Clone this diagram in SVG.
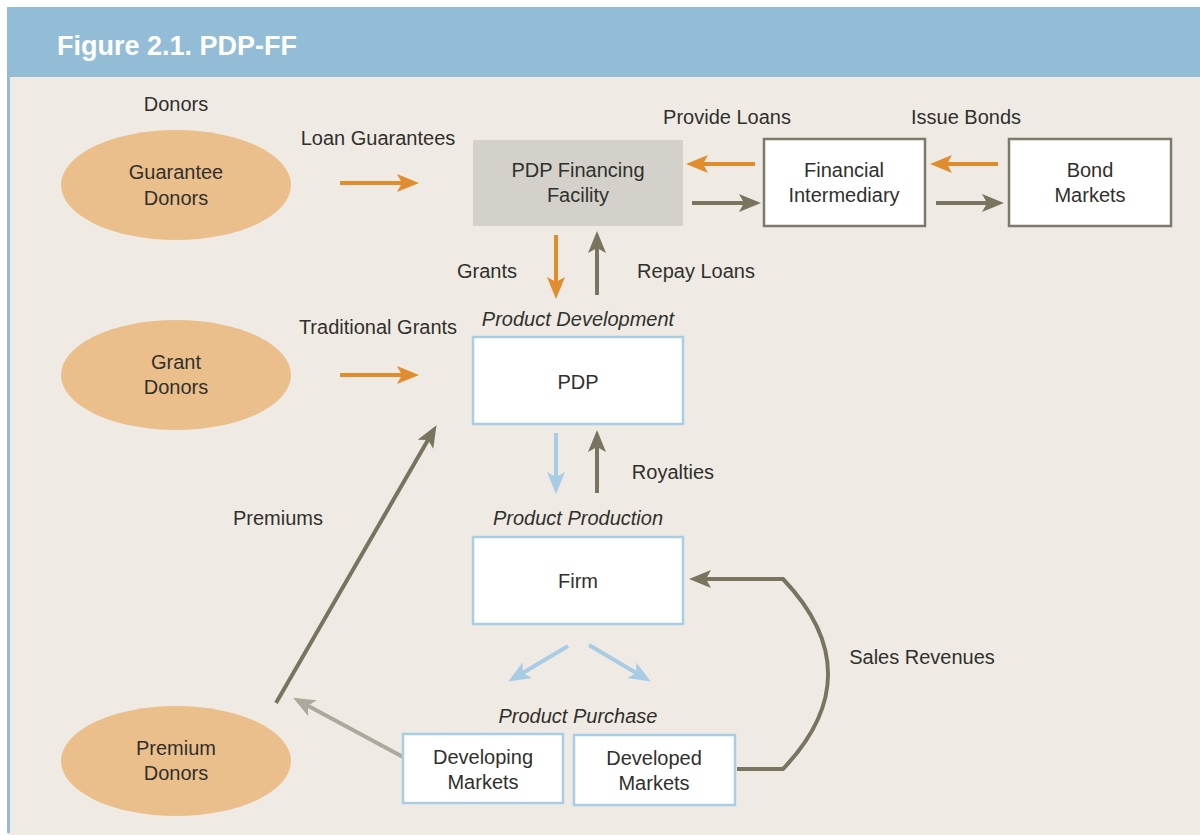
<svg xmlns="http://www.w3.org/2000/svg" width="1200" height="835" viewBox="0 0 1200 835">
  <style>
    text { font-family: "Liberation Sans", Arial, Helvetica, sans-serif; font-size: 20px; fill: #30302c; text-anchor: middle; }
    .title { font-size: 27px; font-weight: bold; fill: #ffffff; text-anchor: start; }
    .ital { font-style: italic; }
    .donor { fill: #ebbf8c; }
    .boxgray { fill: #d4d1cb; }
    .boxdark { fill: #ffffff; stroke: #7d7a6c; stroke-width: 2.5; }
    .boxblue { fill: #ffffff; stroke: #a8cde5; stroke-width: 2.5; }
    .c { fill: none; stroke-width: 4; }
    .orange { stroke: #e08d2e; }
    .olive { stroke: #78745f; }
    .sky { stroke: #a8cce4; }
    .pale { stroke: #aca89c; }
  </style>
  <defs>
    <marker id="hOrange" markerUnits="userSpaceOnUse" markerWidth="24" markerHeight="20" refX="13" refY="9" orient="auto">
      <path d="M0,0 L22,9 L0,18 L5,9 z" fill="#e08d2e"/>
    </marker>
    <marker id="hOlive" markerUnits="userSpaceOnUse" markerWidth="24" markerHeight="20" refX="13" refY="9" orient="auto">
      <path d="M0,0 L22,9 L0,18 L5,9 z" fill="#78745f"/>
    </marker>
    <marker id="hSky" markerUnits="userSpaceOnUse" markerWidth="24" markerHeight="20" refX="13" refY="9" orient="auto">
      <path d="M0,0 L22,9 L0,18 L5,9 z" fill="#a8cce4"/>
    </marker>
    <marker id="hPale" markerUnits="userSpaceOnUse" markerWidth="24" markerHeight="20" refX="13" refY="9" orient="auto">
      <path d="M0,0 L22,9 L0,18 L5,9 z" fill="#aca89c"/>
    </marker>
  </defs>

  <!-- page frame -->
  <rect x="0" y="0" width="1200" height="835" fill="#ffffff"/>
  <rect x="8" y="77" width="1192" height="758" fill="#efebe4"/>
  <rect x="8" y="7" width="1192" height="70" fill="#93bcd7"/>
  <rect x="7" y="7" width="3" height="826" fill="#93bcd7"/>
  <text class="title" x="57" y="55">Figure 2.1. PDP-FF</text>

  <!-- free-standing labels -->
  <g id="labels">
    <text x="176" y="111">Donors</text>
    <text x="378" y="145">Loan Guarantees</text>
    <text x="727" y="124">Provide Loans</text>
    <text x="966" y="124">Issue Bonds</text>
    <text x="487" y="278">Grants</text>
    <text x="696" y="278">Repay Loans</text>
    <text x="378" y="334">Traditional Grants</text>
    <text class="ital" x="578" y="326">Product Development</text>
    <text x="673" y="479">Royalties</text>
    <text x="278" y="525">Premiums</text>
    <text class="ital" x="578" y="525">Product Production</text>
    <text x="922" y="664">Sales Revenues</text>
    <text class="ital" x="578" y="723">Product Purchase</text>
  </g>

  <!-- connectors -->
  <g id="connectors">
    <line class="c orange" x1="340" y1="183" x2="410" y2="183" marker-end="url(#hOrange)"/>
    <line class="c orange" x1="340" y1="375" x2="410" y2="375" marker-end="url(#hOrange)"/>
    <line class="c orange" x1="755" y1="164" x2="695" y2="164" marker-end="url(#hOrange)"/>
    <line class="c orange" x1="998" y1="164" x2="939" y2="164" marker-end="url(#hOrange)"/>
    <line class="c orange" x1="556" y1="235" x2="556" y2="290" marker-end="url(#hOrange)"/>
    <line class="c olive" x1="692" y1="203" x2="752" y2="203" marker-end="url(#hOlive)"/>
    <line class="c olive" x1="936" y1="203" x2="995" y2="203" marker-end="url(#hOlive)"/>
    <line class="c olive" x1="597" y1="295" x2="597" y2="240" marker-end="url(#hOlive)"/>
    <line class="c sky" x1="556" y1="433" x2="556" y2="485" marker-end="url(#hSky)"/>
    <line class="c olive" x1="597" y1="493" x2="597" y2="439" marker-end="url(#hOlive)"/>
    <line class="c sky" x1="568" y1="646" x2="516" y2="677" marker-end="url(#hSky)"/>
    <line class="c sky" x1="589" y1="645" x2="643" y2="677" marker-end="url(#hSky)"/>
    <line class="c olive" x1="276" y1="703" x2="432" y2="433" marker-end="url(#hOlive)"/>
    <line class="c pale" x1="403" y1="757" x2="301" y2="702" marker-end="url(#hPale)"/>
    <path class="c olive" d="M737,769 L783,769 C843,706 843,642 783,579 L698,579" marker-end="url(#hOlive)"/>
  </g>

  <!-- donor nodes -->
  <g id="guarantee-donors">
    <ellipse class="donor" cx="176" cy="185" rx="115" ry="55"/>
    <text x="176" y="179">Guarantee</text>
    <text x="176" y="205">Donors</text>
  </g>
  <g id="grant-donors">
    <ellipse class="donor" cx="176" cy="375" rx="115" ry="55"/>
    <text x="176" y="369">Grant</text>
    <text x="176" y="394">Donors</text>
  </g>
  <g id="premium-donors">
    <ellipse class="donor" cx="176" cy="761" rx="115" ry="55"/>
    <text x="176" y="755">Premium</text>
    <text x="176" y="780">Donors</text>
  </g>

  <!-- financing chain -->
  <g id="pdp-ff">
    <rect class="boxgray" x="473" y="140" width="210" height="86"/>
    <text x="578" y="177">PDP Financing</text>
    <text x="578" y="202">Facility</text>
  </g>
  <g id="financial-intermediary">
    <rect class="boxdark" x="764" y="139" width="161" height="87"/>
    <text x="844" y="177">Financial</text>
    <text x="844" y="202">Intermediary</text>
  </g>
  <g id="bond-markets">
    <rect class="boxdark" x="1009" y="139" width="162" height="87"/>
    <text x="1090" y="177">Bond</text>
    <text x="1090" y="202">Markets</text>
  </g>

  <!-- development, production and purchase -->
  <g id="pdp">
    <rect class="boxblue" x="473" y="337" width="210" height="87"/>
    <text x="578" y="389">PDP</text>
  </g>
  <g id="firm">
    <rect class="boxblue" x="473" y="537" width="210" height="87"/>
    <text x="578" y="588">Firm</text>
  </g>
  <g id="developing-markets">
    <rect class="boxblue" x="403" y="734" width="160" height="69"/>
    <text x="483" y="764">Developing</text>
    <text x="483" y="789">Markets</text>
  </g>
  <g id="developed-markets">
    <rect class="boxblue" x="574" y="735" width="161" height="70"/>
    <text x="654" y="765">Developed</text>
    <text x="654" y="790">Markets</text>
  </g>
</svg>
